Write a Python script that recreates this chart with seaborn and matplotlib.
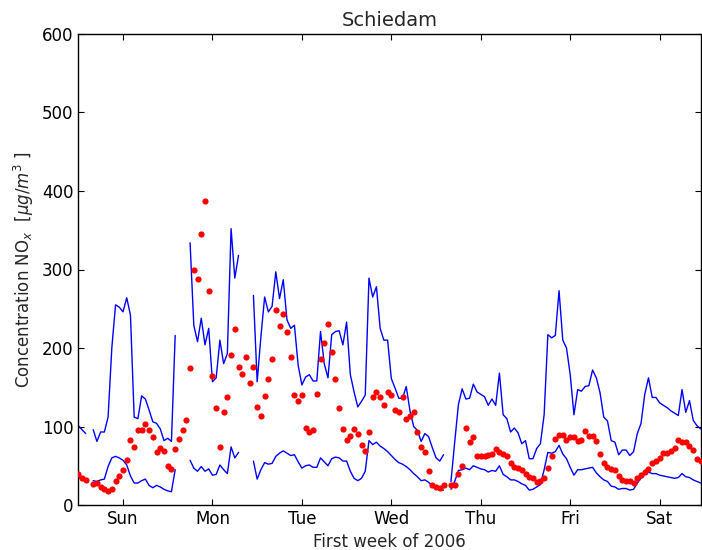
import numpy as np
import pandas as pd
import matplotlib
matplotlib.use("Agg")
import matplotlib.pyplot as plt
import seaborn as sns

nan = np.nan

day_labels = ["Sun", "Mon", "Tue", "Wed", "Thu", "Fri", "Sat"]

observed = [
    40, 34, 32, nan, 27, 28, 23, 21, 18, 20, 30, 37, 44, 57, 83, 74, 96, 95, 103, 95, 86, 67, 72, 69,
    50, 46, 71, 84, 95, 108, 175, 299, 288, 345, 387, 273, 164, 123, 74, 118, 137, 191, 224, 176, 167, 189, 155, 176,
    125, 113, 139, 161, 186, 248, 228, 243, 221, 189, 140, 132, 140, 98, 93, 96, 141, 186, 207, 231, 195, 161, 123, 97,
    83, 88, 97, 90, 76, 69, 93, 137, 144, 137, 127, 144, 140, 121, 118, 138, 110, 114, 119, 93, 74, 67, 43, 26,
    23, 22, 25, nan, 26, 26, 39, 50, 98, 80, 86, 63, 62, 62, 64, 65, 71, 68, 65, 62, 53, 48, 47, 45,
    39, 36, 34, 29, 31, 34, 47, 63, 84, 89, 89, 83, 86, 86, 82, 83, 94, 88, 88, 82, 65, 53, 49, 46,
    44, 37, 32, 31, 30, 28, 34, 38, 42, 46, 54, 56, 60, 66, 66, 69, 72, 83, 80, 80, 75, 70, 58, 56,
]

upper = [
    101, 96, 91, nan, 96, 81, 93, 93, 112, 200, 255, 252, 246, 264, 242, 112, 110, 139, 135, 121, 106, 104, 97, 82,
    85, 81, 216, nan, nan, nan, 334, 229, 208, 238, 204, 225, 157, 162, 210, 180, 193, 352, 289, 318, nan, nan, nan, 267,
    157, 214, 265, 246, 253, 297, 263, 287, 236, 225, 229, 178, 153, 163, 166, 158, 158, 221, 180, 162, 217, 221, 222, 204,
    233, 166, 144, 125, 132, 140, 289, 265, 278, 225, 210, 210, 161, 149, 136, 136, 151, 120, 100, 95, 81, 91, 87, 73,
    60, 56, 64, nan, 30, 80, 128, 148, 135, 136, 154, 144, 141, 138, 127, 135, 127, 168, 115, 110, 93, 98, 92, 78,
    82, 59, 59, 72, 78, 115, 217, 213, 216, 273, 210, 200, 166, 115, 147, 145, 151, 152, 172, 162, 143, 112, 107, 82,
    80, 64, 70, 70, 63, 68, 91, 104, 141, 162, 137, 137, 130, 127, 124, 120, 117, 114, 147, 118, 133, 108, 101, 97,
]

lower = [
    35, 33, 32, nan, 31, 30, 32, 33, 49, 60, 62, 60, 57, 51, 37, 28, 28, 31, 33, 25, 22, 25, 23, 20,
    18, 17, 45, nan, nan, nan, 57, 47, 43, 49, 43, 46, 38, 39, 51, 45, 40, 74, 60, 67, nan, nan, nan, 56,
    33, 45, 54, 52, 53, 62, 66, 69, 66, 63, 64, 55, 47, 50, 51, 48, 48, 60, 55, 50, 59, 61, 60, 56,
    56, 43, 34, 31, 34, 43, 82, 77, 80, 75, 72, 68, 63, 58, 54, 52, 49, 45, 40, 36, 31, 32, 29, 24,
    21, 19, 19, nan, 20, 30, 44, 45, 47, 45, 50, 48, 46, 45, 42, 44, 43, 50, 39, 36, 32, 32, 30, 27,
    25, 19, 20, 23, 26, 45, 67, 66, 68, 76, 65, 59, 48, 38, 45, 45, 46, 47, 48, 41, 36, 32, 30, 24,
    23, 20, 21, 21, 19, 20, 28, 34, 42, 42, 40, 40, 38, 37, 36, 35, 34, 35, 40, 36, 35, 32, 30, 28,
]

hours = np.arange(len(observed))


def segmented(values, name):
    v = np.asarray(values, dtype=float)
    seg = np.cumsum(np.isnan(v))
    df = pd.DataFrame({"hour": hours, "value": v, "seg": seg, "series": name})
    return df.dropna()


sns.set_style("white")
plt.rcParams.update({
    "font.family": ["DejaVu Sans"],
    "font.size": 12,
    "xtick.direction": "in",
    "ytick.direction": "in",
    "xtick.top": True,
    "ytick.right": True,
    "xtick.bottom": True,
    "ytick.left": True,
    "xtick.major.size": 4,
    "ytick.major.size": 4,
    "xtick.major.width": 0.8,
    "ytick.major.width": 0.8,
    "xtick.color": "black",
    "ytick.color": "black",
    "axes.edgecolor": "black",
    "axes.linewidth": 1.0,
    "xtick.labelsize": 12,
    "ytick.labelsize": 12,
})

fig = plt.figure(figsize=(7.02, 5.50), dpi=100)
ax = fig.add_axes([0.1115, 0.0818, 0.8866, 0.8564])

up_df = segmented(upper, "upper")
lo_df = segmented(lower, "lower")
sns.lineplot(data=up_df, x="hour", y="value", units="seg", estimator=None,
             color="#0000ff", linewidth=1.0, ax=ax, legend=False)
sns.lineplot(data=lo_df, x="hour", y="value", units="seg", estimator=None,
             color="#0000ff", linewidth=1.0, ax=ax, legend=False)

obs_df = pd.DataFrame({"hour": hours, "value": observed}).dropna()
sns.scatterplot(data=obs_df, x="hour", y="value", color="#ff0000", s=20,
                linewidth=0, ax=ax, legend=False, zorder=3)

ax.set_xlim(0, len(observed) - 1)
ax.set_ylim(0, 600)
ax.set_yticks(np.arange(0, 601, 100))
ax.set_xticks([12 + 24 * i for i in range(len(day_labels))])
ax.set_xticklabels(day_labels)
ax.set_xlabel("First week of 2006", fontsize=12)
ax.set_ylabel(r"Concentration NO$_x$  [$\mu g/m^3$ ]", fontsize=12)
ax.set_title("Schiedam", fontsize=14)
for s in ax.spines.values():
    s.set_visible(True)
    s.set_color("black")

fig.savefig("out.png", dpi=100)
